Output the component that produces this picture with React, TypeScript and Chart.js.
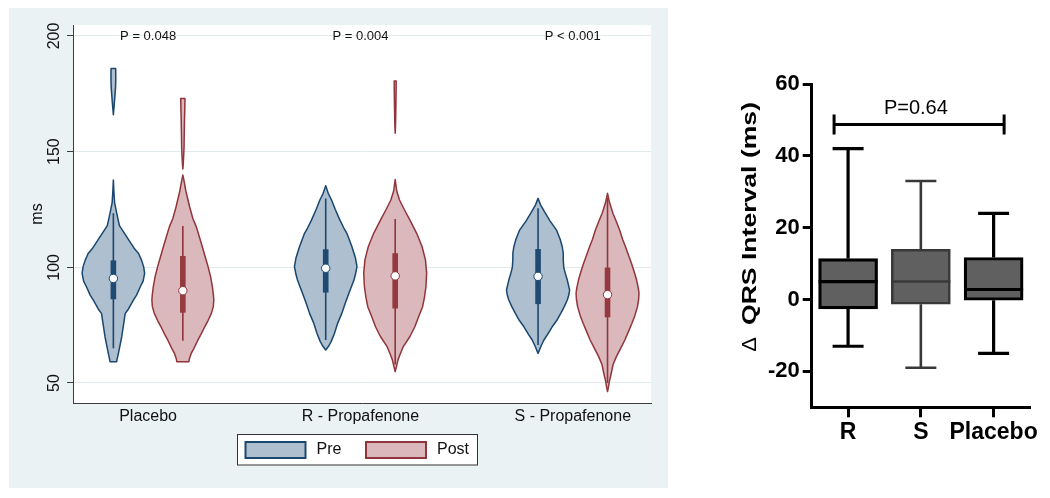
import React, { useEffect, useRef } from "react";
import { Chart, registerables } from "chart.js";

Chart.register(...registerables);

// ---------------- Left panel data (violin plots, QRS in ms) ----------------
const groups = ["Placebo", "R - Propafenone", "S - Propafenone"];
const phaseLabels = ["Pre", "Post"];
const pLabels = ["P = 0.048", "P = 0.004", "P < 0.001"];
const msTicks = [50, 100, 150, 200];

// violin outlines: [ms value, half-width density]
const placeboPreTail: number[][] = [[186, 0.23], [182, 0.24], [178, 0.22], [174, 0.15], [170, 0.08], [166, 0]];
const placeboPreBody: number[][] = [
  [137.7, 0], [133, 0.05], [128, 0.12], [123.4, 0.33], [118, 0.6], [113.2, 1.33], [108, 2.1], [106, 2.5],
  [103, 2.8], [100.3, 3.0], [97.4, 3.1], [94, 2.95], [91.6, 2.67], [88, 2.3], [85.9, 2.0], [82, 1.5],
  [80, 1.17], [77, 1.07], [70, 0.83], [65, 0.6], [62.8, 0.5], [60, 0.36], [59.2, 0.33],
];
const placeboPostTail: number[][] = [[173, 0.21], [168, 0.19], [163, 0.16], [158, 0.14], [152, 0.12], [148, 0.08], [144, 0.03], [142.5, 0]];
const placeboPostBody: number[][] = [
  [139.9, 0], [137.8, 0.1], [133, 0.3], [126.2, 0.67], [121, 1.0], [117.6, 1.33], [113, 1.65], [108.9, 1.93],
  [104, 2.25], [100.3, 2.5], [96, 2.75], [91.6, 2.93], [88, 3.03], [85.9, 3.07], [83, 3.02], [80.1, 2.83],
  [77, 2.5], [74.3, 2.17], [71, 1.8], [68.6, 1.5], [65, 1.1], [62.8, 0.83], [60.5, 0.65], [59.2, 0.6],
];
const rPreBody: number[][] = [
  [135.3, 0], [132, 0.25], [129.1, 0.58], [125, 0.95], [120.5, 1.4], [117, 1.8], [114.7, 2.1], [108.9, 2.6],
  [104, 2.95], [100.3, 3.1], [97, 2.95], [94.5, 2.8], [88.8, 2.3], [84, 1.9], [80.1, 1.6], [76, 1.2],
  [71.5, 0.87], [68, 0.55], [66, 0.3], [64.3, 0],
];
const rPostTail: number[][] = [[180.5, 0.1], [176, 0.09], [170, 0.07], [165, 0.05], [161, 0.03], [158, 0]];
const rPostBody: number[][] = [
  [138, 0], [136.3, 0.05], [133, 0.15], [129.1, 0.43], [125, 0.9], [120.5, 1.45], [114.7, 2.13], [108.9, 2.67],
  [103.2, 3.0], [97.4, 3.12], [91.6, 3.05], [87, 2.9], [83, 2.72], [79, 2.35], [74.3, 1.95], [70, 1.45],
  [65.7, 0.8], [62, 0.45], [60, 0.28], [57, 0.12], [54.9, 0],
];
const sPreBody: number[][] = [
  [129.8, 0], [127, 0.25], [123.4, 0.72], [120, 1.2], [116.1, 1.83], [112, 2.2], [108.9, 2.4], [106, 2.5],
  [103.2, 2.5], [100, 2.55], [97.4, 2.7], [94.5, 2.9], [90.2, 3.13], [88, 3.05], [85.9, 2.9], [83, 2.6],
  [80.1, 2.25], [77, 1.85], [74.3, 1.4], [71, 0.95], [68.6, 0.58], [66, 0.3], [62.8, 0],
];
const sPostBody: number[][] = [
  [132, 0], [128, 0.2], [123.4, 0.53], [120, 0.85], [116.1, 1.2], [112, 1.5], [108.9, 1.78], [105, 2.1],
  [101.7, 2.38], [98, 2.65], [94.5, 2.88], [91, 3.05], [88.8, 3.12], [86, 3.08], [83, 2.97], [79, 2.7],
  [75.8, 2.42], [72, 2.05], [68.6, 1.72], [65, 1.3], [61.4, 0.88], [58, 0.55], [54.2, 0.37], [51, 0.2],
  [48, 0.08], [46.3, 0],
];
const preViolins = [[placeboPreTail, placeboPreBody], [rPreBody], [sPreBody]];
const postViolins = [[placeboPostTail, placeboPostBody], [rPostTail, rPostBody], [sPostBody]];

const preQ1 = [86.2, 89.1, 84.1];
const preMedian = [95.2, 99.6, 96.1];
const preQ3 = [103.0, 107.8, 107.9];
const preLow = [65.0, 68.6, 66.4];
const preHigh = [123.4, 129.8, 125.5];
const postQ1 = [80.4, 82.2, 78.4];
const postMedian = [89.9, 96.3, 88.2];
const postQ3 = [104.9, 106.1, 99.9];
const postLow = [68.3, 58.0, 50.0];
const postHigh = [117.9, 120.9, 130.0];

// ---------------- Right panel data (box plots, delta QRS) ----------------
const deltaGroups = ["R", "S", "Placebo"];
const deltaMin = [-13, -19, -15];
const deltaQ1 = [-2.6, -1.3, -0.2];
const deltaMedian = [5, 5, 2.8];
const deltaQ3 = [11.4, 14, 11.7];
const deltaMax = [42, 33, 24];
const deltaTicks = [-20, 0, 20, 40, 60];
const deltaPText = "P=0.64";
const deltaBracketValue = 48.7;
const deltaTitleSymbol = "Δ";
const deltaTitle = "QRS Interval (ms)";

// ---------------- Styles ----------------
const FONT = "'Liberation Sans', Arial, Helvetica, sans-serif";
const PRE = { fill: "#aebfcf", line: "#1a476f", box: "#1f4a72" };
const POST = { fill: "#dbb8bc", line: "#90353b", box: "#94393f" };
const BG = "#eaf2f3";
const GRID = "#e2eaed";
const AXIS = "#3c3c3c";
const PHASE_OFFSET = 0.1636;
const VIOLIN_UNIT = 0.0475;

function leftPlugin() {
  return {
    id: "violins",
    beforeDraw(chart: any) {
      const { ctx, chartArea: a, width, height } = chart;
      ctx.save();
      ctx.fillStyle = BG;
      ctx.fillRect(0, 0, width, height);
      ctx.fillStyle = "#ffffff";
      ctx.fillRect(a.left, a.top, a.right - a.left, a.bottom - a.top);
      ctx.restore();
    },
    beforeDatasetsDraw(chart: any) {
      const { ctx, scales: { x, y } } = chart;
      ctx.save();
      groups.forEach((_, i) => {
        const items = [
          { segs: preViolins[i], off: -PHASE_OFFSET, st: PRE, q1: preQ1[i], q3: preQ3[i], lo: preLow[i], hi: preHigh[i] },
          { segs: postViolins[i], off: PHASE_OFFSET, st: POST, q1: postQ1[i], q3: postQ3[i], lo: postLow[i], hi: postHigh[i] },
        ];
        items.forEach((v) => {
          const c = i + v.off;
          v.segs.forEach((seg) => {
            ctx.beginPath();
            seg.forEach(([val, d], k) => {
              const px = x.getPixelForValue(c + d * VIOLIN_UNIT);
              const py = y.getPixelForValue(val);
              if (k === 0) ctx.moveTo(px, py);
              else ctx.lineTo(px, py);
            });
            for (let k = seg.length - 1; k >= 0; k--) {
              const [val, d] = seg[k];
              ctx.lineTo(x.getPixelForValue(c - d * VIOLIN_UNIT), y.getPixelForValue(val));
            }
            ctx.closePath();
            ctx.fillStyle = v.st.fill;
            ctx.fill();
            ctx.lineWidth = 1.5;
            ctx.lineJoin = "round";
            ctx.strokeStyle = v.st.line;
            ctx.stroke();
          });
          const cx = x.getPixelForValue(c);
          ctx.beginPath();
          ctx.moveTo(cx, y.getPixelForValue(v.hi));
          ctx.lineTo(cx, y.getPixelForValue(v.lo));
          ctx.lineWidth = 1.6;
          ctx.strokeStyle = v.st.line;
          ctx.stroke();
          const top = y.getPixelForValue(v.q3);
          const bot = y.getPixelForValue(v.q1);
          ctx.fillStyle = v.st.box;
          ctx.fillRect(cx - 2.8, top, 5.6, bot - top);
        });
      });
      ctx.restore();
    },
    afterDraw(chart: any) {
      const { ctx, scales: { x, y } } = chart;
      ctx.save();
      // rotated y tick labels
      ctx.fillStyle = "#111";
      ctx.font = `16px ${FONT}`;
      ctx.textAlign = "center";
      ctx.textBaseline = "middle";
      msTicks.forEach((v) => {
        ctx.save();
        ctx.translate(46, y.getPixelForValue(v));
        ctx.rotate(-Math.PI / 2);
        ctx.fillText(String(v), 0, 0);
        ctx.restore();
      });
      // P-value labels
      ctx.font = `13px ${FONT}`;
      pLabels.forEach((t, i) => {
        ctx.fillText(t, x.getPixelForValue(i), y.getPixelForValue(200) + 0.5);
      });
      // legend
      ctx.fillStyle = "#ffffff";
      ctx.fillRect(228.5, 426.5, 240, 30.5);
      ctx.strokeStyle = "#333";
      ctx.lineWidth = 1;
      ctx.strokeRect(228.5, 426.5, 240, 30.5);
      phaseLabels.forEach((lab, k) => {
        const st = k === 0 ? PRE : POST;
        const sx = k === 0 ? 236.5 : 357;
        ctx.fillStyle = st.fill;
        ctx.fillRect(sx, 434, 60, 16);
        ctx.strokeStyle = st.line;
        ctx.lineWidth = 2;
        ctx.strokeRect(sx, 434, 60, 16);
        ctx.fillStyle = "#111";
        ctx.font = `16px ${FONT}`;
        ctx.textAlign = "left";
        ctx.textBaseline = "middle";
        ctx.fillText(lab, sx + 71, 442);
      });
      ctx.restore();
    },
  };
}

function rightPlugin() {
  return {
    id: "boxes",
    afterDatasetsDraw(chart: any) {
      const { ctx, scales: { x, y } } = chart;
      ctx.save();
      deltaGroups.forEach((_, i) => {
        const cx = x.getPixelForValue(i);
        const color = i === 1 ? "#383838" : "#000";
        const lw = i === 1 ? 2.6 : 3.2;
        ctx.strokeStyle = color;
        ctx.lineWidth = lw;
        ctx.lineCap = "butt";
        const yMax = y.getPixelForValue(deltaMax[i]);
        const yMin = y.getPixelForValue(deltaMin[i]);
        const yQ3 = y.getPixelForValue(deltaQ3[i]);
        const yQ1 = y.getPixelForValue(deltaQ1[i]);
        ctx.beginPath();
        ctx.moveTo(cx, yQ3);
        ctx.lineTo(cx, yMax);
        ctx.moveTo(cx - 15.5, yMax);
        ctx.lineTo(cx + 15.5, yMax);
        ctx.moveTo(cx, yQ1);
        ctx.lineTo(cx, yMin);
        ctx.moveTo(cx - 15.5, yMin);
        ctx.lineTo(cx + 15.5, yMin);
        const yMed = y.getPixelForValue(deltaMedian[i]);
        ctx.moveTo(cx - 29.5, yMed);
        ctx.lineTo(cx + 29.5, yMed);
        ctx.stroke();
      });
      ctx.restore();
    },
    afterDraw(chart: any) {
      const { ctx, scales: { x, y } } = chart;
      ctx.save();
      // significance bracket
      const x0 = x.getPixelForValue(0) - 14;
      const x1 = x.getPixelForValue(2) + 10.5;
      const yb = y.getPixelForValue(deltaBracketValue);
      ctx.strokeStyle = "#000";
      ctx.lineWidth = 3;
      ctx.beginPath();
      ctx.moveTo(x0, yb);
      ctx.lineTo(x1, yb);
      ctx.moveTo(x0, yb - 10);
      ctx.lineTo(x0, yb + 10);
      ctx.moveTo(x1, yb - 10);
      ctx.lineTo(x1, yb + 10);
      ctx.stroke();
      ctx.fillStyle = "#000";
      ctx.font = `20px ${FONT}`;
      ctx.textAlign = "center";
      ctx.textBaseline = "middle";
      ctx.fillText(deltaPText, x.getPixelForValue(1) - 5, yb - 16.5);
      // y-axis title (rotated, stretched as in the original)
      ctx.translate(65.7, 351.7);
      ctx.rotate(-Math.PI / 2);
      ctx.textAlign = "left";
      ctx.textBaseline = "alphabetic";
      ctx.save();
      ctx.font = `20px ${FONT}`;
      ctx.scale(1.1, 1);
      ctx.fillText(deltaTitleSymbol, 0, 0);
      ctx.restore();
      ctx.font = `bold 21px ${FONT}`;
      const w = ctx.measureText(deltaTitle).width;
      ctx.translate(26.7, 0);
      ctx.scale(223 / w, 1);
      ctx.fillText(deltaTitle, 0, 0);
      ctx.restore();
    },
  };
}

export default function App() {
  const leftRef = useRef<HTMLCanvasElement>(null);
  const rightRef = useRef<HTMLCanvasElement>(null);

  useEffect(() => {
    const left = new Chart(leftRef.current as HTMLCanvasElement, {
      type: "scatter",
      data: {
        datasets: [
          {
            label: phaseLabels[0],
            data: groups.map((_, i) => ({ x: i - PHASE_OFFSET, y: preMedian[i] })),
            pointRadius: 4.2,
            pointHoverRadius: 4.2,
            pointBackgroundColor: "#ffffff",
            pointBorderColor: PRE.line,
            pointBorderWidth: 1,
          },
          {
            label: phaseLabels[1],
            data: groups.map((_, i) => ({ x: i + PHASE_OFFSET, y: postMedian[i] })),
            pointRadius: 4.2,
            pointHoverRadius: 4.2,
            pointBackgroundColor: "#ffffff",
            pointBorderColor: POST.line,
            pointBorderWidth: 1,
          },
        ],
      },
      options: {
        responsive: false,
        animation: false,
        events: [],
        layout: { padding: { top: 17, right: 17, left: 0, bottom: 0 } },
        plugins: { legend: { display: false }, tooltip: { enabled: false } },
        scales: {
          x: {
            type: "linear",
            min: -0.3537,
            max: 2.3683,
            afterBuildTicks: (s: any) => {
              s.ticks = groups.map((_, i) => ({ value: i }));
            },
            afterFit: (s: any) => {
              s.height = 85;
            },
            ticks: {
              callback: (v: any) => groups[Math.round(Number(v))] ?? "",
              font: { family: FONT, size: 16 },
              color: "#111",
              padding: 4,
              maxRotation: 0,
              minRotation: 0,
              autoSkip: false,
            },
            grid: { display: false, drawTicks: false },
            border: { display: true, color: AXIS, width: 1 },
          },
          y: {
            type: "linear",
            min: 41.354,
            max: 204.755,
            afterBuildTicks: (s: any) => {
              s.ticks = msTicks.map((v) => ({ value: v }));
            },
            afterFit: (s: any) => {
              s.width = 64;
            },
            ticks: { display: false },
            grid: { color: GRID, lineWidth: 1, drawTicks: true, tickLength: 6, tickColor: AXIS, tickWidth: 1 },
            border: { color: AXIS, width: 1 },
            title: {
              display: true,
              text: "ms",
              font: { family: FONT, size: 16 },
              color: "#111",
              padding: { top: 19.4, bottom: 0 },
            },
          },
        },
      },
      plugins: [leftPlugin()],
    } as any);

    const right = new Chart(rightRef.current as HTMLCanvasElement, {
      type: "bar",
      data: {
        labels: deltaGroups,
        datasets: [
          {
            data: deltaGroups.map((_, i) => [deltaQ1[i], deltaQ3[i]]),
            backgroundColor: "#606060",
            borderColor: ["#000", "#383838", "#000"],
            borderWidth: [3.2, 2.6, 3.2],
            borderSkipped: false,
            barThickness: 59,
          },
        ],
      },
      options: {
        responsive: false,
        animation: false,
        events: [],
        layout: { padding: { top: 84, right: 20, left: 0, bottom: 0 } },
        plugins: { legend: { display: false }, tooltip: { enabled: false } },
        scales: {
          x: {
            type: "category",
            offset: true,
            afterFit: (s: any) => {
              s.height = 90.7;
            },
            grid: { display: true, drawOnChartArea: false, offset: false, drawTicks: true, tickLength: 10, tickWidth: 3, tickColor: "#000" },
            border: { color: "#000", width: 3 },
            ticks: { font: { family: FONT, size: 23, weight: "bold" }, color: "#000", padding: 2, maxRotation: 0, autoSkip: false },
          },
          y: {
            type: "linear",
            min: -30,
            max: 60,
            afterBuildTicks: (s: any) => {
              s.ticks = deltaTicks.map((v) => ({ value: v }));
            },
            afterFit: (s: any) => {
              s.width = 121.7;
            },
            grid: { display: true, drawOnChartArea: false, drawTicks: true, tickLength: 9, tickWidth: 3, tickColor: "#000" },
            border: { color: "#000", width: 3 },
            ticks: { font: { family: FONT, size: 22, weight: "bold" }, color: "#000", padding: 3 },
          },
        },
      },
      plugins: [rightPlugin()],
    } as any);

    return () => {
      left.destroy();
      right.destroy();
    };
  }, []);

  return (
    <div style={{ position: "fixed", left: 0, top: 0, width: 1050, height: 498, background: "#ffffff", overflow: "hidden" }}>
      <canvas
        ref={leftRef}
        width={659}
        height={480}
        style={{ position: "absolute", left: 9, top: 8, width: 659, height: 480 }}
      />
      <canvas
        ref={rightRef}
        width={360}
        height={498}
        style={{ position: "absolute", left: 690, top: 0, width: 360, height: 498 }}
      />
    </div>
  );
}
